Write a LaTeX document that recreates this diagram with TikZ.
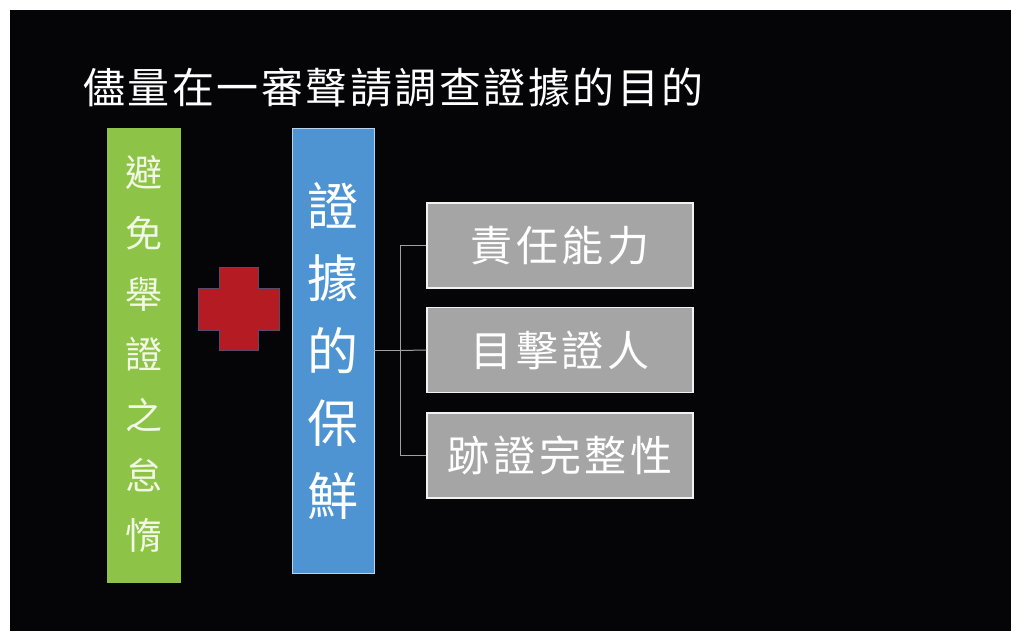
\documentclass[tikz,border=0pt]{standalone}
\usepackage{fontspec}
\newfontfamily\cjk{Noto Sans CJK TC}
\newfontfamily\cjkls[LetterSpace=9]{Noto Sans CJK TC}
\newfontfamily\cjkt[LetterSpace=6]{Noto Sans CJK TC}
\definecolor{bgblack}{HTML}{050507}
\definecolor{mygreen}{HTML}{8DC447}
\definecolor{myblue}{HTML}{4E94D2}
\definecolor{mygray}{HTML}{A5A5A5}
\definecolor{myred}{HTML}{B51B22}
\definecolor{rededge}{HTML}{5A4A6A}
\definecolor{linegray}{HTML}{A0A0A0}
\definecolor{gtextcol}{HTML}{F2F8E6}
\tikzset{
  x=1pt, y=-1pt,
  gtext/.style={inner sep=0pt, text=gtextcol, font=\cjk\fontsize{37}{37}\selectfont},
  btext/.style={inner sep=0pt, text=white, font=\cjk\fontsize{51}{51}\selectfont},
  graybox/.style={draw=white!85!mygray, line width=1.2pt, fill=mygray, minimum width=266pt, minimum height=85pt, inner sep=0pt, text=white, font=\cjkls\fontsize{42}{42}\selectfont},
  conn/.style={draw=linegray, line width=1pt},
}
\begin{document}
\begin{tikzpicture}
\fill[white] (0,0) rectangle (1011,631);
\fill[bgblack] (10,10) rectangle (1011,631);
% title
\node[anchor=west, inner sep=0pt, text=white, font=\cjkt\fontsize{42}{42}\selectfont] (title) at (83,88) {儘量在一審聲請調查證據的目的};
% green bar
\node[fill=mygreen, minimum width=74pt, minimum height=455pt, inner sep=0pt] (green) at (144,355.5) {};
\foreach \c [count=\i] in {避,免,舉,證,之,怠,惰}
  \node[gtext] (g\i) at (144,173+60.5*\i-60.5) {\c};
% red cross
\filldraw[fill=myred, draw=rededge, line width=0.8pt]
  (219,267) -- (258,267) -- (258,288) -- (279,288) -- (279,330) -- (258,330)
  -- (258,350) -- (219,350) -- (219,330) -- (198,330) -- (198,288) -- (219,288) -- cycle;
% blue bar
\node[fill=myblue, draw=white!60!myblue, line width=0.8pt, minimum width=82pt, minimum height=445pt, inner sep=0pt] (blue) at (333,350.5) {};
\foreach \c [count=\i] in {證,據,的,保,鮮}
  \node[btext] (b\i) at (333,206+72.5*\i-72.5) {\c};
% gray boxes
\node[graybox] (r1) at (560,245.5) {責任能力};
\node[graybox] (r2) at (560,350) {目擊證人};
\node[graybox] (r3) at (560,455.5) {跡證完整性};
% connectors
\coordinate (j) at (400,350.5);
\draw[conn] (blue.east) -- (j);
\draw[conn] (r1.west) -| (j);
\draw[conn] (r2.west) -- (j);
\draw[conn] (r3.west) -| (j);
\pgfresetboundingbox
\path[use as bounding box] (0,0) rectangle (1011,631);
\end{tikzpicture}
\end{document}
